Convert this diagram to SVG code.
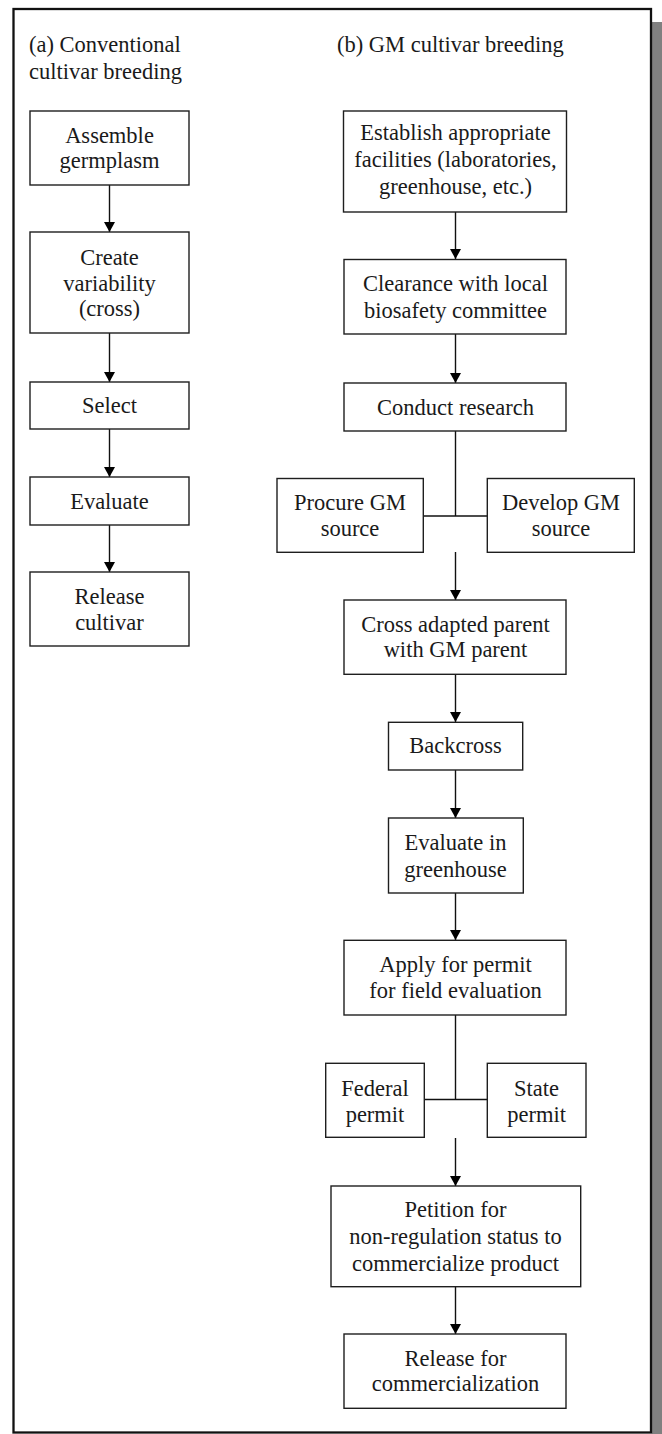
<svg xmlns="http://www.w3.org/2000/svg" width="662" height="1434" viewBox="0 0 662 1434">
<style>
  .box { fill: #ffffff; stroke: #1e1e1e; stroke-width: 1.4; }
  .t { font-family: "Liberation Serif", "Times New Roman", serif; font-size: 22.5px; fill: #1a1a1a; text-anchor: middle; }
  .title { font-family: "Liberation Serif", "Times New Roman", serif; font-size: 22.5px; fill: #1a1a1a; text-anchor: start; }
  .conn { stroke: #111111; stroke-width: 1.4; fill: none; }
  .arr { marker-end: url(#ah); }
</style>
<defs>
  <marker id="ah" viewBox="0 0 10 11" refX="10" refY="5.5" markerWidth="10" markerHeight="11" markerUnits="userSpaceOnUse" orient="auto">
    <path d="M0,0 L10,5.5 L0,11 Z" fill="#000000"/>
  </marker>
</defs>

<rect x="0" y="0" width="662" height="1434" fill="#ffffff"/>
<rect id="shadow" x="652" y="22" width="10" height="1412" fill="#808080"/>
<rect id="frame" x="13.5" y="9" width="637.5" height="1423.5" fill="#ffffff" stroke="#111111" stroke-width="2.3"/>

<g id="titles">
  <text class="title" x="29" y="52">(a) Conventional</text>
  <text class="title" x="29" y="79">cultivar breeding</text>
  <text class="title" x="337" y="52">(b) GM cultivar breeding</text>
</g>

<g id="connectors">
  <line class="conn arr" x1="109.5" y1="185" x2="109.5" y2="232"/>
  <line class="conn arr" x1="109.5" y1="333" x2="109.5" y2="382"/>
  <line class="conn arr" x1="109.5" y1="429" x2="109.5" y2="477"/>
  <line class="conn arr" x1="109.5" y1="525" x2="109.5" y2="572"/>

  <line class="conn arr" x1="455.5" y1="212" x2="455.5" y2="259"/>
  <line class="conn arr" x1="455.5" y1="334" x2="455.5" y2="383"/>
  <line class="conn" x1="455.5" y1="431" x2="455.5" y2="516"/>
  <line class="conn" x1="423.3" y1="516" x2="487.3" y2="516"/>
  <line class="conn arr" x1="455.5" y1="552" x2="455.5" y2="600"/>
  <line class="conn arr" x1="455.5" y1="674" x2="455.5" y2="722"/>
  <line class="conn arr" x1="455.5" y1="770" x2="455.5" y2="818"/>
  <line class="conn arr" x1="455.5" y1="893" x2="455.5" y2="940"/>
  <line class="conn" x1="455.5" y1="1015" x2="455.5" y2="1099.5"/>
  <line class="conn" x1="424.3" y1="1099.5" x2="487.3" y2="1099.5"/>
  <line class="conn arr" x1="455.5" y1="1138" x2="455.5" y2="1186"/>
  <line class="conn arr" x1="455.5" y1="1287" x2="455.5" y2="1334"/>
</g>

<g id="a1">
  <rect class="box" x="30" y="111" width="159" height="74"/>
  <text class="t" x="109.5" y="143">Assemble</text>
  <text class="t" x="109.5" y="168">germplasm</text>
</g>
<g id="a2">
  <rect class="box" x="30" y="232" width="159" height="101"/>
  <text class="t" x="109.5" y="265">Create</text>
  <text class="t" x="109.5" y="290.5">variability</text>
  <text class="t" x="109.5" y="316">(cross)</text>
</g>
<g id="a3">
  <rect class="box" x="30" y="382" width="159" height="47"/>
  <text class="t" x="109.5" y="413">Select</text>
</g>
<g id="a4">
  <rect class="box" x="30" y="477" width="159" height="48"/>
  <text class="t" x="109.5" y="509">Evaluate</text>
</g>
<g id="a5">
  <rect class="box" x="30" y="572" width="159" height="74"/>
  <text class="t" x="109.5" y="604">Release</text>
  <text class="t" x="109.5" y="630">cultivar</text>
</g>

<g id="b1">
  <rect class="box" x="343.5" y="111" width="223" height="101"/>
  <text class="t" x="455.5" y="140">Establish appropriate</text>
  <text class="t" x="455.5" y="166.5">facilities (laboratories,</text>
  <text class="t" x="455.5" y="194">greenhouse, etc.)</text>
</g>
<g id="b2">
  <rect class="box" x="344" y="259.5" width="222" height="74.5"/>
  <text class="t" x="455.5" y="290.5">Clearance with local</text>
  <text class="t" x="455.5" y="318">biosafety committee</text>
</g>
<g id="b3">
  <rect class="box" x="344" y="383" width="222" height="48"/>
  <text class="t" x="455.5" y="415">Conduct research</text>
</g>
<g id="b4">
  <rect class="box" x="277" y="478.5" width="146.3" height="73.8"/>
  <text class="t" x="350" y="510">Procure GM</text>
  <text class="t" x="350" y="535.5">source</text>
</g>
<g id="b5">
  <rect class="box" x="487.3" y="478.5" width="147" height="73.8"/>
  <text class="t" x="561" y="510">Develop GM</text>
  <text class="t" x="561" y="535.5">source</text>
</g>
<g id="b6">
  <rect class="box" x="344" y="600" width="222" height="74.3"/>
  <text class="t" x="455.5" y="631.5">Cross adapted parent</text>
  <text class="t" x="455.5" y="657">with GM parent</text>
</g>
<g id="b7">
  <rect class="box" x="388.5" y="722.3" width="134.2" height="47.7"/>
  <text class="t" x="455.5" y="752.5">Backcross</text>
</g>
<g id="b8">
  <rect class="box" x="388.5" y="818" width="134.8" height="75"/>
  <text class="t" x="455.5" y="850">Evaluate in</text>
  <text class="t" x="455.5" y="876.5">greenhouse</text>
</g>
<g id="b9">
  <rect class="box" x="344" y="940.3" width="222" height="74.7"/>
  <text class="t" x="455.5" y="971.5">Apply for permit</text>
  <text class="t" x="455.5" y="998">for field evaluation</text>
</g>
<g id="b10">
  <rect class="box" x="325.7" y="1063.3" width="98.6" height="74"/>
  <text class="t" x="375" y="1095.5">Federal</text>
  <text class="t" x="375" y="1122">permit</text>
</g>
<g id="b11">
  <rect class="box" x="487.3" y="1063.3" width="98.7" height="74"/>
  <text class="t" x="536.6" y="1095.5">State</text>
  <text class="t" x="536.6" y="1122">permit</text>
</g>
<g id="b12">
  <rect class="box" x="331" y="1186" width="249.7" height="100.7"/>
  <text class="t" x="455.5" y="1217.3">Petition for</text>
  <text class="t" x="455.5" y="1244">non-regulation status to</text>
  <text class="t" x="455.5" y="1270.5">commercialize product</text>
</g>
<g id="b13">
  <rect class="box" x="344" y="1334" width="222" height="74.3"/>
  <text class="t" x="455.5" y="1365.5">Release for</text>
  <text class="t" x="455.5" y="1390.5">commercialization</text>
</g>
</svg>
